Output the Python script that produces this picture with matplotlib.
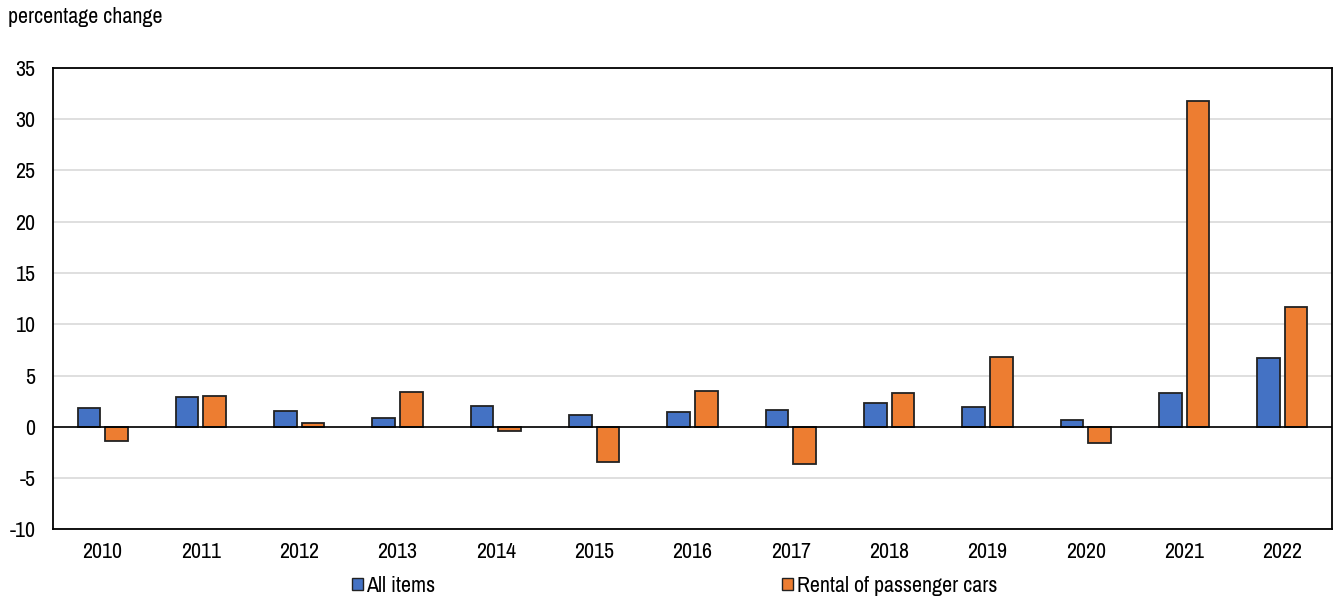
import matplotlib
matplotlib.use("Agg")
import matplotlib.pyplot as plt
from matplotlib import font_manager
import numpy as np
from matplotlib.patches import Patch

years = ["2010", "2011", "2012", "2013", "2014", "2015", "2016",
         "2017", "2018", "2019", "2020", "2021", "2022"]
all_items = [1.8, 2.9, 1.5, 0.9, 2.0, 1.1, 1.4, 1.6, 2.3, 1.9, 0.7, 3.3, 6.7]
car_rental = [-1.4, 3.0, 0.4, 3.4, -0.4, -3.4, 3.5, -3.6, 3.3, 6.8, -1.6, 31.8, 11.7]
series_names = ["All items", "Rental of passenger cars"]
y_ticks = [-10, -5, 0, 5, 10, 15, 20, 25, 30, 35]

# prefer a narrow sans face when one is available
names = sorted({f.name for f in font_manager.fontManager.ttflist})
narrow = [n for n in names if "Narrow" in n or "Condensed" in n]
family = narrow[0] if narrow else "Liberation Sans"
plt.rcParams["font.family"] = [family, "DejaVu Sans"]
fs = 15.8 if narrow else 12

BLUE = "#4472C4"
ORANGE = "#ED7D31"

fig = plt.figure(figsize=(13.33, 5.99), dpi=100)
ax = fig.add_axes([0.0401, 0.1164, 0.9588, 0.7701])

x = np.arange(len(years))
w = 0.23
off = 0.14
ax.bar(x - off, all_items, width=w, color=BLUE, edgecolor="#222222", linewidth=1.3, zorder=3)
ax.bar(x + off, car_rental, width=w, color=ORANGE, edgecolor="#222222", linewidth=1.3, zorder=3)

ax.set_xlim(-0.5, len(years) - 0.5)
ax.set_ylim(-10, 35)
ax.set_yticks(y_ticks)
ax.set_yticklabels([str(t) for t in y_ticks], fontsize=fs)
ax.set_xticks(x)
ax.set_xticklabels(years, fontsize=fs)
ax.tick_params(axis="both", length=0)
ax.tick_params(axis="y", pad=13)
ax.tick_params(axis="x", pad=9)

ax.grid(axis="y", color="#d9d9d9", linewidth=1.2, zorder=0)
ax.axhline(0, color="black", linewidth=1.2, zorder=4)
for s in ax.spines.values():
    s.set_color("black")
    s.set_linewidth(1.3)

fig.text(0.006, 0.972, "percentage change", fontsize=fs, ha="left", va="center")

h1 = Patch(facecolor=BLUE, edgecolor="#222222", linewidth=1.0)
h2 = Patch(facecolor=ORANGE, edgecolor="#222222", linewidth=1.0)
for h, name, xpos in [(h1, series_names[0], 0.264), (h2, series_names[1], 0.587)]:
    fig.legend([h], [name], loc="center left", bbox_to_anchor=(xpos, 0.022),
               frameon=False, fontsize=fs, handlelength=0.5, handleheight=0.5,
               handletextpad=0.15, borderpad=0, borderaxespad=0)

fig.savefig("out.png", dpi=100)
